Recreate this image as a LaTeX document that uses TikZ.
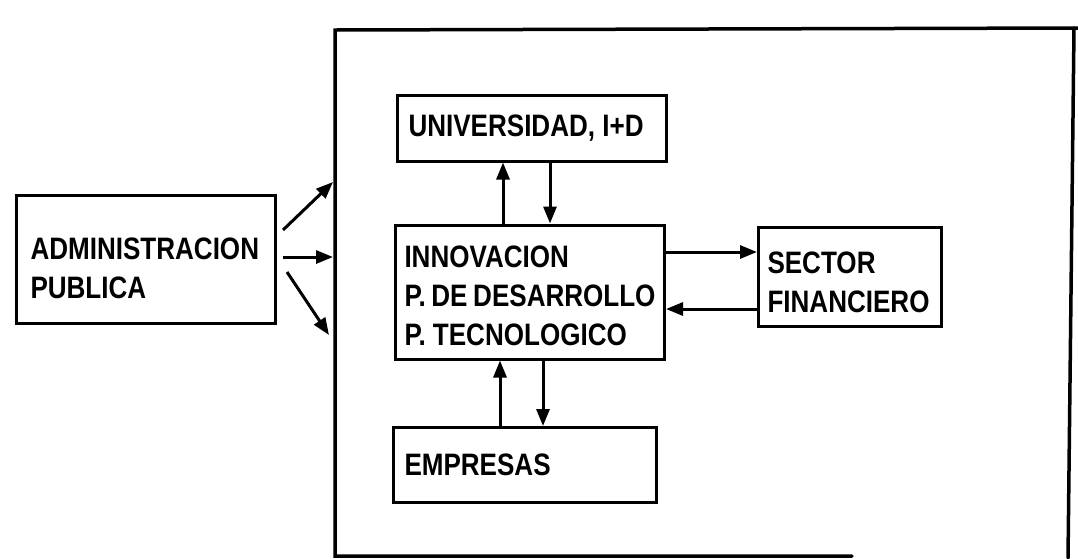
\documentclass[tikz,border=0pt]{standalone}
\usepackage{fontspec}
\setmainfont{Liberation Sans}[FakeStretch=0.84]
\usetikzlibrary{arrows.meta}
\begin{document}
\begin{tikzpicture}[x=1pt,y=-1pt,
  box/.style={draw, line width=3pt, align=flush left, inner xsep=11pt, inner ysep=0pt,
    font=\fontsize{31pt}{39pt}\selectfont\bfseries},
  arr/.style={line width=3pt, -{Triangle[length=17pt,width=13pt]}},
  frameline/.style={line width=3.5pt, line cap=round}]
\useasboundingbox (0,0) rectangle (1078,558);
% frame
\draw[frameline] (852,556) -- (335,556) -- (335,30) -- (1078,28);
\draw[frameline] (1074,28) -- (1068,558);
% boxes
\node[box, text width=247pt, minimum height=66pt] (univ) at (532,128) {UNIVERSIDAD,~I+D};
\node[box, inner xsep=9pt, text width=251pt, minimum height=134pt] (innov) at (530,292)
  {\rule{0pt}{30pt}INNOVACION\\P.~DE~DESARROLLO\\P.~TECNOLOGICO};
\node[box, inner xsep=9pt, text width=165pt, minimum height=99pt] (sector) at (850,277)
  {\rule{0pt}{32pt}SECTOR\\FINANCIERO};
\node[box, text width=241pt, minimum height=75pt] (emp) at (525,465) {EMPRESAS};
\node[box, inner xsep=14pt, text width=231pt, minimum height=128pt] (admin) at (146,259)
  {\rule{0pt}{40pt}ADMINISTRACION\\PUBLICA};
% helper coordinates
\coordinate (f1) at (333,182);
\coordinate (f2) at (333,257);
\coordinate (f3) at (329,335);
\coordinate (v1) at (503,0);
\coordinate (v2) at (550,0);
\coordinate (v3) at (500,0);
\coordinate (v4) at (543,0);
\coordinate (h1) at (0,252);
\coordinate (h2) at (0,309);
% connectors
\draw[arr] ([shift={(6,-29)}]admin.east) -- (f1);
\draw[arr] ([shift={(6,-2)}]admin.east) -- (f2);
\draw[arr] ([shift={(10,13)}]admin.east) -- (f3);
\draw[arr] (innov.north -| v1) -- (univ.south -| v1);
\draw[arr] (univ.south -| v2) -- (innov.north -| v2);
\draw[arr] (emp.north -| v3) -- (innov.south -| v3);
\draw[arr] (innov.south -| v4) -- (emp.north -| v4);
\draw[arr] (innov.east |- h1) -- (sector.west |- h1);
\draw[arr] (sector.west |- h2) -- (innov.east |- h2);
\end{tikzpicture}
\end{document}
